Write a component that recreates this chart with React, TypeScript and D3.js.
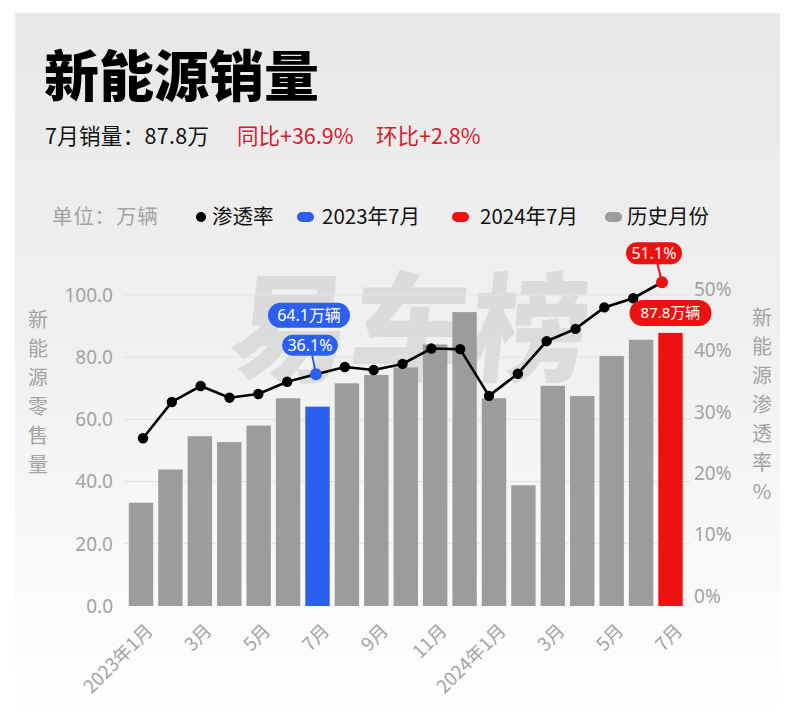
import React from "react";
import * as d3 from "d3";

const months = [
  "2023-01","2023-02","2023-03","2023-04","2023-05","2023-06","2023-07","2023-08","2023-09","2023-10","2023-11","2023-12",
  "2024-01","2024-02","2024-03","2024-04","2024-05","2024-06","2024-07",
];
const tickLabels: Record<string, string> = {
  "2023-01": "2023年1月", "2023-03": "3月", "2023-05": "5月", "2023-07": "7月", "2023-09": "9月", "2023-11": "11月",
  "2024-01": "2024年1月", "2024-03": "3月", "2024-05": "5月", "2024-07": "7月",
};
const sales = [33.2, 43.9, 54.6, 52.7, 58.0, 66.8, 64.1, 71.6, 74.3, 76.7, 84.1, 94.5, 66.8, 38.8, 70.8, 67.5, 80.4, 85.6, 87.8];
const rate = [25.7, 31.6, 34.2, 32.3, 32.9, 34.9, 36.1, 37.3, 36.8, 37.8, 40.3, 40.2, 32.6, 36.2, 41.5, 43.5, 47.0, 48.5, 51.1];
const leftTicks = [0, 20, 40, 60, 80, 100];
const rightTicks = [0, 10, 20, 30, 40, 50];
const highlightPrev = "2023-07";
const highlightCur = "2024-07";

const BLUE = "#2b5ff0";
const RED = "#ee1111";
const GRAY = "#9c9c9c";
const AXIS = "#a3a3a3";
const FONT = "'Noto Sans CJK SC', 'Noto Sans', sans-serif";
const NUMFONT = "'Noto Sans', 'Noto Sans CJK SC', sans-serif";

export default function App() {
  const W = 800, H = 714;
  const x = d3.scaleBand<string>().domain(months).range([126.3, 685.2]).paddingInner(0.17).paddingOuter(0.085);
  const xl = d3.scalePoint<string>().domain(months).range([143, 662]);
  const yL = d3.scaleLinear().domain([0, 100]).range([606, 295]);
  const yR = d3.scaleLinear().domain([0, 50]).range([596, 289]);
  const line = d3.line<number>().x((_, i) => xl(months[i])!).y((d) => yR(d));

  const iPrev = months.indexOf(highlightPrev);
  const iCur = months.indexOf(highlightCur);
  const pPrev = { x: xl(highlightPrev)!, y: yR(rate[iPrev]) };
  const pCur = { x: xl(highlightCur)!, y: yR(rate[iCur]) };
  const barCurX = x(highlightCur)! + x.bandwidth() / 2;
  const barCurTop = yL(sales[iCur]);

  const pill = (cx: number, cy: number, w: number, h: number, color: string, text: string, fs: number) => (
    <g>
      <rect x={cx - w / 2} y={cy - h / 2} width={w} height={h} rx={h / 2} fill={color} />
      <text x={cx} y={cy} dy="0.36em" textAnchor="middle" fill="#fff" fontSize={fs} fontFamily={NUMFONT}>{text}</text>
    </g>
  );

  const leftTitle = "新能源零售量".split("");
  const rightTitle = "新能源渗透率%".split("");

  return (
    <svg width={W} height={H} style={{ position: "absolute", left: 0, top: 0 }} fontFamily={FONT}>
      <defs>
        <linearGradient id="bg" x1="0" y1="0" x2="0" y2="1">
          <stop offset="0%" stopColor="#e8e8e8" />
          <stop offset="50%" stopColor="#f1f1f1" />
          <stop offset="90%" stopColor="#fcfcfc" />
          <stop offset="100%" stopColor="#ffffff" />
        </linearGradient>
      </defs>
      <rect x={0} y={0} width={W} height={H} fill="#fff" />
      <rect x={15} y={13} width={765} height={700} fill="url(#bg)" />

      {/* title */}
      <text x={44} y={96} fontSize={55} fontWeight={900} fill="#000">新能源销量</text>
      <text x={45} y={144} fontSize={21.5} fill="#111" letterSpacing={0.3}>7月销量：87.8万</text>
      <text x={237} y={144} fontSize={21.5} fill="#d4202c">同比+36.9%</text>
      <text x={376} y={144} fontSize={21.5} fill="#d4202c">环比+2.8%</text>

      {/* legend */}
      <g fontSize={20.5}>
        <text x={52} y={224} fill={AXIS} letterSpacing={0.8}>单位：万辆</text>
        <circle cx={201} cy={217} r={5} fill="#000" />
        <text x={212} y={224} fill="#111">渗透率</text>
        <rect x={297} y={212} width={17} height={10} rx={5} fill={BLUE} />
        <text x={322} y={224} fill="#111">2023年7月</text>
        <rect x={452} y={212} width={17} height={10} rx={5} fill={RED} />
        <text x={480} y={224} fill="#111">2024年7月</text>
        <rect x={605} y={212} width={17} height={10} rx={5} fill={GRAY} />
        <text x={627} y={224} fill="#111">历史月份</text>
      </g>

      {/* watermark */}
      <text x={228} y={372} fontSize={118} fontWeight={900} fill="#d5d5d5" opacity={0.75}
        transform="skewX(-6) translate(38,0)" letterSpacing={2}>易车榜</text>

      {/* gridlines */}
      {leftTicks.filter((t) => t > 0).map((t) => (
        <line key={t} x1={124} x2={690} y1={yL(t)} y2={yL(t)} stroke="#e2e2e2" strokeWidth={1} />
      ))}

      {/* left axis */}
      {leftTicks.map((t) => (
        <text key={t} x={113} y={yL(t)} dy="0.36em" textAnchor="end" fontSize={19} fill={AXIS} fontFamily={NUMFONT}>{t.toFixed(1)}</text>
      ))}
      {leftTitle.map((c, i) => (
        <text key={i} x={38} y={320 + i * 29} dy="0.36em" textAnchor="middle" fontSize={20} fill={AXIS}>{c}</text>
      ))}

      {/* right axis */}
      {rightTicks.map((t) => (
        <text key={t} x={694} y={yR(t)} dy="0.36em" textAnchor="start" fontSize={19} fill={AXIS} fontFamily={NUMFONT}>{t}%</text>
      ))}
      {rightTitle.map((c, i) => (
        <text key={i} x={762} y={318 + i * 29} dy="0.36em" textAnchor="middle" fontSize={20} fill={AXIS}>{c}</text>
      ))}

      {/* bars */}
      {months.map((m, i) => (
        <rect key={m} x={x(m)} y={yL(sales[i])} width={x.bandwidth()} height={yL(0) - yL(sales[i])}
          fill={m === highlightPrev ? BLUE : m === highlightCur ? RED : GRAY} />
      ))}

      {/* x labels */}
      {months.filter((m) => tickLabels[m]).map((m) => {
        const cx = x(m)! + x.bandwidth() / 2;
        return (
          <text key={m} transform={`translate(${cx + 13},${632}) rotate(-45)`} textAnchor="end" fontSize={18.5} fill={AXIS}>{tickLabels[m]}</text>
        );
      })}

      {/* line */}
      <path d={line(rate) ?? ""} fill="none" stroke="#000" strokeWidth={2.6} />
      {rate.map((r, i) => (
        <circle key={i} cx={xl(months[i])} cy={yR(r)} r={i === iPrev || i === iCur ? 6 : 5.2}
          fill={i === iPrev ? BLUE : i === iCur ? RED : "#000"} />
      ))}

      {/* annotations */}
      <line x1={pPrev.x - 4} y1={pPrev.y - 20} x2={pPrev.x} y2={pPrev.y} stroke={BLUE} strokeWidth={2} />
      {pill(pPrev.x - 7, pPrev.y - 59, 82, 25, BLUE, `${sales[iPrev]}万辆`, 16)}
      {pill(pPrev.x - 6, pPrev.y - 29, 56, 21, BLUE, `${rate[iPrev]}%`, 16)}

      <line x1={pCur.x - 5} y1={pCur.y - 20} x2={pCur.x} y2={pCur.y} stroke={RED} strokeWidth={2} />
      {pill(pCur.x - 8, pCur.y - 29, 56, 22, RED, `${rate[iCur]}%`, 16)}
      {pill(barCurX, barCurTop - 20, 82, 26, RED, `${sales[iCur]}万辆`, 15)}
    </svg>
  );
}
